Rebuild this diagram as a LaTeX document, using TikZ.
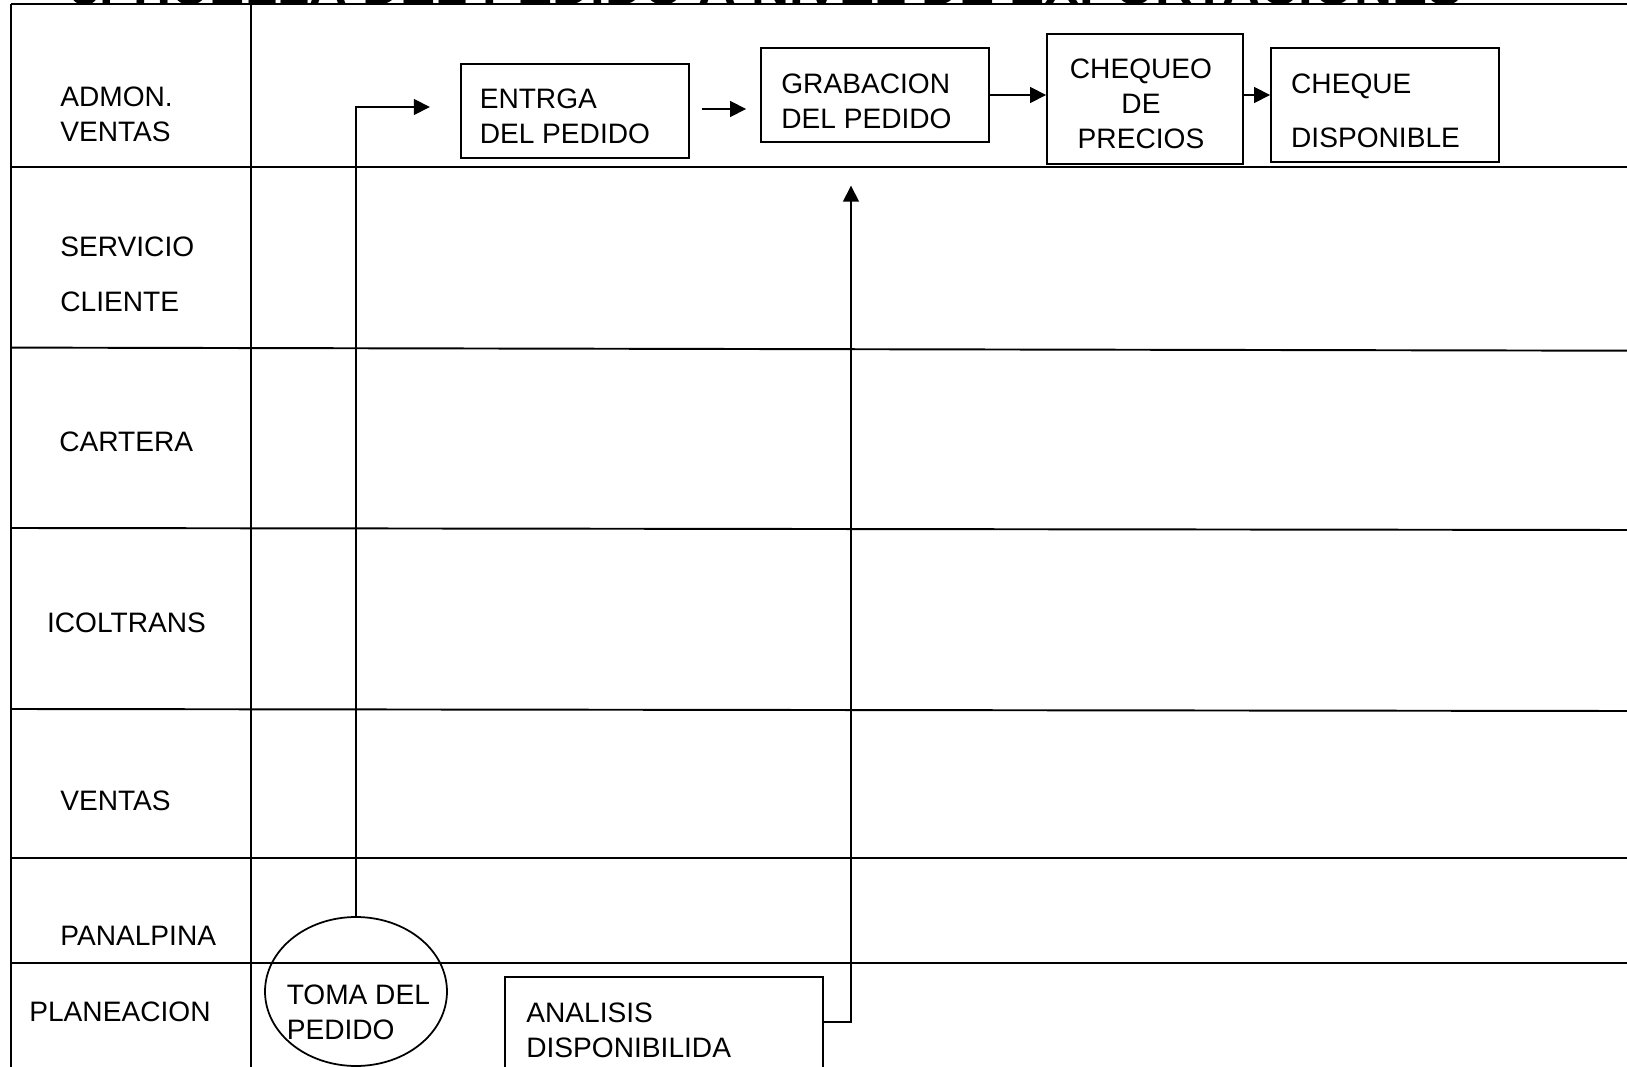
\documentclass[tikz,border=0pt]{standalone}
\usepackage{fontspec}
\setmainfont{Liberation Sans}
\usetikzlibrary{arrows.meta,calc,shapes.geometric}
\begin{document}
\begin{tikzpicture}[x=0.02cm,y=-0.02cm,
  grid/.style={line width=1.1pt},
  procbox/.style={draw,line width=1.1pt,rectangle,inner sep=0pt},
  txt/.style={font=\fontsize{16}{20}\selectfont,inner sep=0pt,align=left},
  flow/.style={line width=0.9pt,-{Triangle[length=0.32cm,width=0.32cm]}}]
\useasboundingbox (0,0) rectangle (1627,1067);
\clip (0,0) rectangle (1627,1067);

% heading (only its lower edge shows above the table)
\node[anchor=base west,inner sep=0pt,font=\fontsize{30}{36}\selectfont\bfseries] (title) at (70,5)
  {3. HUELLA DEL PEDIDO A NIVEL DE EXPORTACIONES};

% swim-lane grid
\draw[grid] (11,4) -- (1627,4);
\draw[grid] (11,4) -- (11,1067);
\draw[grid] (251,4) -- (251,1067);
\draw[grid] (11,167) -- (1627,167);
\draw[grid] (11,347.6) -- (1627,350.7);
\draw[grid] (11,528) -- (1627,530);
\draw[grid] (11,709) -- (1627,711);
\draw[grid] (11,858) -- (1627,858);
\draw[grid] (11,963) -- (1627,963);

% lane names
\node[txt,anchor=west] (l-admon) at (60,114.5) {ADMON.\\VENTAS};
\node[txt,anchor=west] (l-serv) at (60,274.3) {SERVICIO\\[11.5pt]CLIENTE};
\node[txt,anchor=west] (l-cart) at (59,442) {CARTERA};
\node[txt,anchor=west] (l-icol) at (46.7,622.6) {ICOLTRANS};
\node[txt,anchor=west] (l-vent) at (60,801) {VENTAS};
\node[txt,anchor=west] (l-panal) at (60,936) {PANALPINA};
\node[txt,anchor=west] (l-plan) at (29,1011.7) {PLANEACION};

% process steps
\node[procbox,minimum width=4.566cm,minimum height=1.868cm] (entrega) at (574.9,111) {};
\node[procbox,minimum width=4.564cm,minimum height=1.89cm] (grab) at (874.7,95) {};
\node[procbox,minimum width=3.92cm,minimum height=2.596cm] (cheq) at (1145,99.1) {};
\node[procbox,minimum width=4.56cm,minimum height=2.284cm] (cheque) at (1385,104.8) {};
\node[procbox,minimum width=6.35cm,minimum height=2.452cm] (analisis) at (664,1038.7) {};
\node[draw,ellipse,line width=1pt,inner sep=0pt,minimum width=3.64cm,minimum height=2.98cm] (toma) at (356,991.5) {};

\node[txt,anchor=west] (entrega-t) at (479.4,116.2) {ENTRGA\\DEL PEDIDO};
\node[txt,anchor=west] (grab-t) at (781,101.7) {GRABACION\\DEL PEDIDO};
\node[txt,align=center] (cheq-t) at (1141,103.8) {CHEQUEO\\DE\\PRECIOS};
\node[txt,anchor=west] (cheque-t) at (1290.8,111) {CHEQUE\\[10.7pt]DISPONIBLE};
\node[txt,anchor=west] (analisis-t) at (526,1029.9) {ANALISIS\\DISPONIBILIDA};
\node[txt,anchor=west] (toma-t) at (286.4,1012) {TOMA DEL\\PEDIDO};

% connectors
\draw[flow] (toma.north) |- ($(entrega.west)+(-30,-4)$);
\draw[flow] ($(entrega.east)+(12,-2)$) -- ($(grab.west |- entrega.east)+(-13.6,-2)$);
\draw[flow] (grab.east) -- (grab.east -| cheq.west);
\draw[flow] (cheq.east |- grab.east) -- (grab.east -| cheque.west);
\draw[flow] ($(analisis.north east)+(0,45.6)$) -| ($(grab.south)+(-23.7,42.5)$);
\end{tikzpicture}
\end{document}
